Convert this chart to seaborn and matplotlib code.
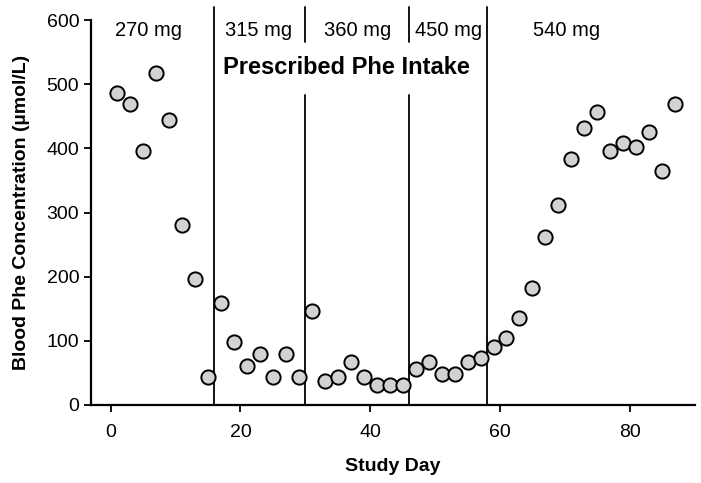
import numpy as np
import pandas as pd
import matplotlib
matplotlib.use('Agg')
import matplotlib.pyplot as plt
import seaborn as sns

# study days (every second day) and blood Phe values
days = list(range(1, 88, 2))
phe = [487, 469, 396, 517, 444, 280, 196, 44, 159, 98, 61, 79, 44, 79, 44,
       146, 37, 44, 67, 44, 31, 31, 31, 56, 67, 49, 49, 67, 74, 91, 104, 135,
       183, 262, 311, 383, 432, 457, 396, 408, 402, 426, 365, 469]

# prescribed intake periods
change_days = [16, 30, 46, 58]
dose_labels = ['270 mg', '315 mg', '360 mg', '450 mg', '540 mg']
dose_label_x = [5.8, 22.8, 38.0, 52.0, 70.2]

sns.set_style('ticks')
plt.rcParams['font.family'] = ['Liberation Sans', 'DejaVu Sans']
plt.rcParams.update({'text.color': 'black', 'axes.labelcolor': 'black',
                     'xtick.color': 'black', 'ytick.color': 'black'})

df = pd.DataFrame({'day': days, 'phe': phe})

fig = plt.figure(figsize=(7.01, 4.83), dpi=100)
ax = fig.add_axes([0.13, 0.1615, 0.861, 0.797])

sns.scatterplot(data=df, x='day', y='phe', ax=ax, s=105, color='#d2d2d2',
                edgecolor='black', linewidth=1.4, zorder=3, clip_on=False)

# phase boundaries
top = 620
for d in change_days:
    if d in (30, 46):
        ax.plot([d, d], [0, 483], color='black', lw=1.3, clip_on=False)
        ax.plot([d, d], [565, top], color='black', lw=1.3, clip_on=False)
    else:
        ax.plot([d, d], [0, top], color='black', lw=1.3, clip_on=False)

for x, lab in zip(dose_label_x, dose_labels):
    ax.text(x, 583, lab, ha='center', va='center', fontsize=14.5, color='black')

ax.text(36.3, 526, 'Prescribed Phe Intake', ha='center', va='center',
        fontsize=17, fontweight='bold', color='black')

ax.set_xlim(-3, 90)
ax.set_ylim(0, 600)
ax.set_xticks([0, 20, 40, 60, 80])
ax.set_yticks(range(0, 601, 100))
ax.tick_params(labelsize=14, length=5, width=1.3, color='black', labelcolor='black')
ax.tick_params(axis='x', pad=9)
for sp in ['left', 'bottom']:
    ax.spines[sp].set_linewidth(1.6)
    ax.spines[sp].set_color('black')
sns.despine(ax=ax)

ax.set_xlabel('Study Day', fontsize=14, fontweight='bold', labelpad=12, color='black')
ax.set_ylabel('Blood Phe Concentration (µmol/L)', fontsize=14, fontweight='bold',
              labelpad=12, color='black')

fig.savefig('out.png', dpi=100)
